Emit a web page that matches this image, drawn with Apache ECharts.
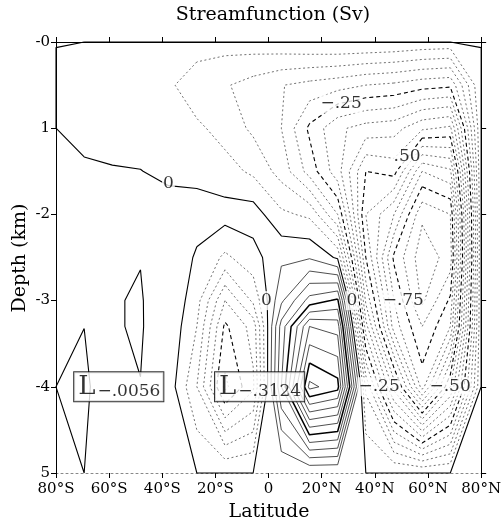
<!DOCTYPE html>
<html><head><meta charset="utf-8">
<script src="https://cdn.jsdelivr.net/npm/echarts@6/dist/echarts.min.js"></script>
<style>html,body{margin:0;padding:0;background:#fff}#c{width:504px;height:526px}</style>
</head><body><div id="c"></div>
<script>
// grid nodes
const lats   = [-80,-69.4,-58.8,-48.2,-37.6,-27,-16.4,-5.8,4.8,15.4,26,36.6,47.2,57.8,68.4,80];
const depths = [0,0.065,0.5,1.0,1.5,2.0,2.5,3.0,3.3,4.0,5.0];
// streamfunction (Sv), one row per depth level (lat order as above)
const psiD0000 = [0,0,0,0,0,0,0,0,0,0,0,0,0,0,0,0];
const psiD0065 = [0,-0.001,-0.003,-0.008,-0.015,-0.029,-0.0375,-0.035,-0.03,-0.025,-0.022,-0.025,-0.03,-0.04,-0.045,0];
const psiD0500 = [0,-0.004,-0.012,-0.025,-0.04,-0.084,-0.095,-0.12,-0.148,-0.165,-0.18,-0.2,-0.21,-0.23,-0.24,0];
const psiD1000 = [0,-0.006,-0.012,-0.02,-0.03,-0.04,-0.07,-0.11,-0.15,-0.26,-0.34,-0.37,-0.38,-0.44,-0.46,0];
const psiD1500 = [0,0.003,0.002,0.001,-0.01,-0.01,-0.03,-0.06,-0.12,-0.22,-0.33,-0.5,-0.48,-0.70,-0.66,0];
const psiD2000 = [0,0.005,0.006,0.005,0.02,0.015,0.02,0.025,-0.04,-0.06,-0.2,-0.55,-0.65,-0.84,-0.80,0];
const psiD2500 = [0,0.005,0.008,0.002,0.03,-0.005,-0.06,-0.02,0.04,0.045,-0.008,-0.5,-0.76,-0.88,-0.83,0];
const psiD3000 = [0,0.003,0.004,-0.005,0.044,-0.031,-0.20,-0.09,0.09,0.22,0.26,-0.41,-0.70,-0.86,-0.74,0];
const psiD3300 = [0,0.0002,0.004,-0.005,0.04,-0.05,-0.26,-0.18,0.17,0.40,0.38,-0.33,-0.675,-0.80,-0.70,0];
const psiD4000 = [0,-0.0056,0.02,0.001,0.03,-0.10,-0.3124,-0.21,0.2,0.565,0.52,-0.11,-0.42,-0.72,-0.45,0];
const psiD5000 = [0,0,0,0,0,0,0,0,0,0,0,0,0,0,0,0];
const psi = [psiD0000,psiD0065,psiD0500,psiD1000,psiD1500,psiD2000,psiD2500,psiD3000,psiD3300,psiD4000,psiD5000];

const levels = [-0.85,-0.8,-0.75,-0.7,-0.65,-0.6,-0.55,-0.5,-0.45,-0.4,-0.35,-0.3,-0.25,-0.2,-0.15,-0.1,-0.05,0,
                0.05,0.1,0.15,0.2,0.25,0.3,0.35,0.4,0.45,0.5,0.55];

const latTickLabels   = ['80°S','60°S','40°S','20°S','0','20°N','40°N','60°N','80°N'];
const depthTickLabels = ['-0','1','-2','-3','-4','5'];

// contour labels: [lat, depth, text]
const contourLabels = [
  [-37.7,1.64,'0'], [-0.8,3.0,'0'], [31.4,3.0,'0'],
  [27.3,0.72,'\u2212.25'], [52.1,1.33,'.50'], [50.7,3.0,'\u2212.75'],
  [41.6,4.0,'\u2212.25'], [68.3,4.0,'\u2212.50']
];
// extrema labels: [lat, depth, value]
const lowLabels = [[-69.4,4.0,'\u2212.0056'], [-16.4,4.0,'\u2212.3124']];

// ---- marching squares ----
function interp(p1,p2,v1,v2,lev){const t=(lev-v1)/(v2-v1);return [p1[0]+t*(p2[0]-p1[0]),p1[1]+t*(p2[1]-p1[1])];}
function key(p){return p[0].toFixed(5)+','+p[1].toFixed(5);}
function contour(Z,xs,ys,lev){
  const segs=[];
  for(let j=0;j<ys.length-1;j++)for(let i=0;i<xs.length-1;i++){
    const P=[[xs[i],ys[j]],[xs[i+1],ys[j]],[xs[i+1],ys[j+1]],[xs[i],ys[j+1]]];
    const V=[Z[j][i],Z[j][i+1],Z[j+1][i+1],Z[j+1][i]];
    const A=V.map(v=>v>=lev);
    const E=[];
    for(let e=0;e<4;e++){const a=e,b=(e+1)%4;if(A[a]!==A[b])E[e]=interp(P[a],P[b],V[a],V[b],lev);}
    const idx=[0,1,2,3].filter(e=>E[e]);
    const add=(p,q)=>{if(key(p)!==key(q))segs.push([p,q]);};
    if(idx.length===2)add(E[idx[0]],E[idx[1]]);
    else if(idx.length===4){
      const c=(V[0]+V[1]+V[2]+V[3])/4>=lev;
      for(let k=0;k<4;k++)if(A[k]!==c)add(E[(k+3)%4],E[k]);
    }
  }
  return segs;
}
function join(segs){
  const used=new Array(segs.length).fill(false),map={};
  segs.forEach((s,i)=>s.forEach(p=>{const k=key(p);(map[k]=map[k]||[]).push(i);}));
  const lines=[];
  for(let i=0;i<segs.length;i++){
    if(used[i])continue;used[i]=true;
    const line=[segs[i][0],segs[i][1]];
    const ext=(atEnd)=>{
      for(;;){
        const end=atEnd?line[line.length-1]:line[0];
        const c=(map[key(end)]||[]).find(x=>!used[x]);
        if(c===undefined)break;
        used[c]=true;const s=segs[c];
        const nx=key(s[0])===key(end)?s[1]:s[0];
        if(atEnd)line.push(nx);else line.unshift(nx);
      }
    };
    ext(true);ext(false);lines.push(line);
  }
  return lines;
}
function styleFor(lev){
  const bold=Math.abs(lev*4-Math.round(lev*4))<1e-6;
  if(Math.abs(lev)<1e-9)return {color:'#000',width:1.1,type:'solid'};
  if(lev>0)return bold?{color:'#000',width:1.5,type:'solid'}:{color:'#222',width:0.8,type:'solid'};
  return bold?{color:'#000',width:1.1,type:[4,3]}:{color:'#333',width:0.7,type:[2,2.5]};
}

const series=[];
levels.forEach(lev=>{
  join(contour(psi,lats,depths,lev)).forEach(line=>{
    series.push({type:'line',data:line,symbol:'none',showSymbol:false,silent:true,clip:false,
      animation:false,lineStyle:styleFor(lev),z:2});
  });
});
const font='DejaVu Serif';
series.push({type:'scatter',symbolSize:0,silent:true,animation:false,z:10,
  data:contourLabels.map(d=>({value:[d[0],d[1]],label:{formatter:d[2]}})),
  label:{show:true,position:'inside',fontFamily:font,fontSize:17,color:'#000',backgroundColor:'#fff',padding:[1,1]}});
series.push({type:'scatter',symbolSize:0,silent:true,animation:false,z:11,
  data:lowLabels.map(d=>({value:[d[0],d[1]],label:{formatter:'{a|L}{b|'+d[2]+'}'}})),
  label:{show:true,position:'inside',align:'left',offset:[-10,0],backgroundColor:'#fff',borderColor:'#000',borderWidth:1,
    padding:[1,3,1,4],
    rich:{a:{fontFamily:font,fontSize:26,color:'#000',lineHeight:27},
          b:{fontFamily:font,fontSize:17,color:'#000',verticalAlign:'bottom',padding:[0,0,0,2]}}}});

const chart=echarts.init(document.getElementById('c'),null,{renderer:'canvas'});
chart.setOption({
  animation:false,
  grid:{left:56,right:17,top:42,bottom:53},
  xAxis:[
    {type:'value',min:-80,max:80,interval:20,position:'bottom',
     axisLine:{onZero:false,lineStyle:{color:'#888',type:[2,3],width:1}},
     axisTick:{length:5,lineStyle:{color:'#000'}},
     axisLabel:{formatter:v=>latTickLabels[Math.round((v+80)/20)],fontFamily:font,fontSize:15,color:'#000',margin:9},
     splitLine:{show:false}},
    {type:'value',min:-80,max:80,interval:20,position:'top',
     axisLine:{onZero:false,lineStyle:{color:'#000',width:1}},axisTick:{length:5,lineStyle:{color:'#000'}},
     axisLabel:{show:false},splitLine:{show:false}}
  ],
  yAxis:[
    {type:'value',min:0,max:5,interval:1,inverse:true,position:'left',
     axisLine:{onZero:false,lineStyle:{color:'#000',width:1}},axisTick:{length:5,lineStyle:{color:'#000'}},
     axisLabel:{formatter:v=>depthTickLabels[Math.round(v)],fontFamily:font,fontSize:15,color:'#000',margin:6},
     splitLine:{show:false}},
    {type:'value',min:0,max:5,interval:1,inverse:true,position:'right',
     axisLine:{onZero:false,lineStyle:{color:'#000',width:1}},axisTick:{length:5,lineStyle:{color:'#000'}},
     axisLabel:{show:false},splitLine:{show:false}}
  ],
  graphic:[
    {type:'text',x:273,y:15,style:{text:'Streamfunction (Sv)',font:'19px "DejaVu Serif"',fill:'#000',textAlign:'center',textVerticalAlign:'middle'}},
    {type:'text',x:269,y:512,style:{text:'Latitude',font:'19px "DejaVu Serif"',fill:'#000',textAlign:'center',textVerticalAlign:'middle'}},
    {type:'text',x:20,y:258,rotation:Math.PI/2,style:{text:'Depth (km)',font:'19px "DejaVu Serif"',fill:'#000',textAlign:'center',textVerticalAlign:'middle'}}
  ],
  series:series
});
</script></body></html>
